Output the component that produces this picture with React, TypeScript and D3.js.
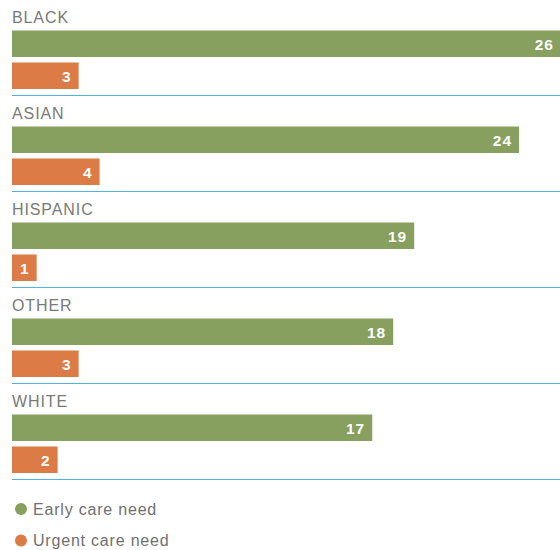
import React from "react";
import * as d3 from "d3";

const categories = ["BLACK", "ASIAN", "HISPANIC", "OTHER", "WHITE"];
const earlyCare = [26, 24, 19, 18, 17];
const urgentCare = [3, 4, 1, 3, 2];
const seriesNames = ["Early care need", "Urgent care need"];
const seriesColors = ["#87a05f", "#dc7b46"];

const W = 560;
const H = 550;

export default function App() {
  const band = d3.scaleBand<string>().domain(categories).range([0, 480]).padding(0);
  const x = d3.scaleLinear().domain([0, 26]).range([15.7, 561]);
  const x0 = 12;
  const series = [earlyCare, urgentCare];
  const barOffsets = [30.5, 62.5];
  const barH = 26.5;
  const font = "'Liberation Sans', Arial, Helvetica, sans-serif";

  return (
    <svg
      width={W}
      height={H}
      style={{ position: "absolute", left: 0, top: 0, display: "block" }}
      fontFamily={font}
    >
      {categories.map((c, i) => {
        const gy = band(c) as number;
        return (
          <g key={c}>
            <text x={x0} y={gy + 23} fontSize={16} letterSpacing={0.9} fill="#7a7a76">
              {c}
            </text>
            {series.map((s, si) => (
              <g key={si}>
                <rect
                  x={x0}
                  y={gy + barOffsets[si]}
                  width={x(s[i]) - x0}
                  height={barH}
                  fill={seriesColors[si]}
                />
                <text
                  x={x(s[i]) - 7}
                  y={gy + barOffsets[si] + 19}
                  textAnchor="end"
                  fontSize={15.5}
                  fontWeight="bold"
                  letterSpacing={1}
                  fill="#ffffff"
                >
                  {s[i]}
                </text>
              </g>
            ))}
            <line
              x1={x0}
              x2={W}
              y1={gy + band.bandwidth() - 0.5}
              y2={gy + band.bandwidth() - 0.5}
              stroke="#4fb4e8"
              strokeWidth={1}
            />
          </g>
        );
      })}
      {seriesNames.map((n, i) => (
        <g key={n}>
          <circle cx={21} cy={509 + i * 31.5} r={6} fill={seriesColors[i]} />
          <text x={33} y={514.5 + i * 31.5} fontSize={16} letterSpacing={0.8} fill="#707070">
            {n}
          </text>
        </g>
      ))}
    </svg>
  );
}
